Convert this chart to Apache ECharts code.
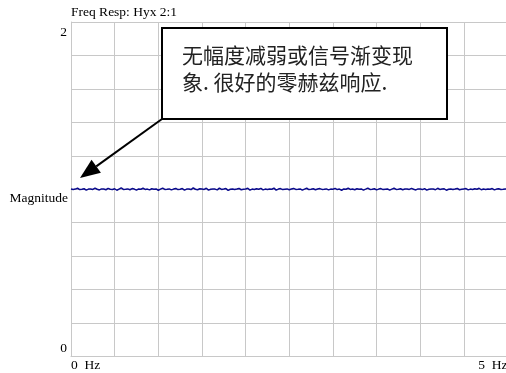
<!DOCTYPE html>
<html>
<head>
<meta charset="utf-8">
<script src="https://cdn.jsdelivr.net/npm/echarts@6/dist/echarts.min.js"></script>
<style>
  html, body { margin: 0; padding: 0; background: #fff; overflow: hidden; }
  #chart { width: 506px; height: 373px; }
</style>
</head>
<body>
<div id="chart"></div>
<script>
// Magnitude of the frequency response Hyx, sampled evenly from 0 to 5 Hz
const freqMin = 0;
const freqMax = 5;
const magnitude = [
  1.002, 0.999, 1.001, 1.006, 0.998, 1.000, 1.003, 0.995, 1.001, 1.002,
  0.999, 1.007, 1.000, 0.996, 1.002, 1.001, 0.997, 1.005, 1.000, 0.999,
  1.003, 0.994, 1.001, 1.008, 0.999, 1.000, 1.002, 0.997, 1.004, 1.001,
  0.995, 1.002, 1.000, 1.006, 0.999, 1.001, 0.996, 1.003, 1.000, 1.002,
  0.994, 1.001, 1.007, 0.999, 1.000, 1.002, 0.996, 1.001, 1.005, 0.998,
  1.000, 1.004, 0.995, 1.001, 1.002, 0.998, 1.008, 1.000, 0.997, 1.003,
  1.001, 0.999, 1.006, 0.995, 1.000, 1.002, 1.001, 0.996, 1.007, 0.999,
  1.001, 1.004, 0.993, 1.000, 1.002, 0.998, 1.001, 1.005, 0.997, 1.000,
  1.002, 1.006, 0.995, 1.001, 0.999, 1.003, 1.000, 1.005, 0.996, 1.001,
  0.999, 1.002, 1.000, 1.007, 0.995, 1.001, 1.004, 0.998, 1.000, 1.002,
  0.997, 1.001, 1.005, 0.999, 1.000, 1.002, 0.995, 1.001, 1.006, 0.998,
  1.000, 1.003, 0.997, 1.001, 1.004, 0.999, 1.000, 1.002, 0.996, 1.001,
  1.000, 1.005, 0.998, 1.001, 0.994, 1.002, 1.000, 1.006, 0.999, 1.001,
  0.997, 1.003, 1.000, 1.002, 0.995, 1.001, 1.007, 0.999, 1.000, 1.003,
  0.996, 1.001, 1.004, 0.998, 1.000, 1.002, 0.995, 1.001, 1.006, 0.999,
  1.000, 1.003, 0.997, 1.001, 1.002, 0.999, 1.005, 1.000, 0.996, 1.002,
  1.001, 0.998, 1.004, 0.995, 1.000, 1.002, 1.001, 0.997, 1.006, 0.999,
  1.001, 1.003, 0.994, 1.000, 1.002, 0.998, 1.001, 1.005, 0.997, 1.000,
  1.002, 1.004, 0.996, 1.001, 0.999, 1.003, 1.000, 1.006, 0.997, 1.001,
  0.999, 1.002, 1.000, 1.004, 0.996, 1.001, 1.003, 0.999, 1.000, 1.002,
  1.001
];

// Axis ranges and the labels shown at their ends
const yMin = 0;
const yMax = 2;
const yTickLabels = { 0: '0', 2: '2' };
const xTickLabels = { 0: '0  Hz', 5: '5  Hz' };

const titleText = 'Freq Resp: Hyx 2:1';
const yAxisTitle = 'Magnitude';
const noteLines = ['无幅度减弱或信号渐变现', '象. 很好的零赫兹响应.'];

const step = (freqMax - freqMin) / (magnitude.length - 1);
const seriesData = magnitude.map((v, i) => [freqMin + i * step, v]);

const serif = '"Liberation Serif", "DejaVu Serif", serif';
const serifSize = 13.5;
const gridGray = '#c8c8c8';

// callout geometry
const box = { x: 162, y: 28, w: 285, h: 91 };
const tip = [80, 178];
const tail = [box.x, box.y + box.h];
const dx = tip[0] - tail[0], dy = tip[1] - tail[1];
const len = Math.sqrt(dx * dx + dy * dy);
const ux = dx / len, uy = dy / len;
const headLen = 20, headHalf = 8;
const base = [tip[0] - ux * headLen, tip[1] - uy * headLen];

const chart = echarts.init(document.getElementById('chart'), null, { renderer: 'canvas' });
chart.setOption({
  animation: false,
  backgroundColor: '#fff',
  grid: {
    left: 71, right: -1.5, top: 22, bottom: 16.5,
    containLabel: false,
    outerBoundsMode: 'none'
  },
  xAxis: {
    type: 'value',
    min: freqMin,
    max: freqMax,
    interval: 0.5,
    axisLine: { show: true, lineStyle: { color: gridGray, width: 1 } },
    axisTick: { show: false },
    splitLine: { show: true, lineStyle: { color: gridGray, width: 1 } },
    axisLabel: {
      margin: 2,
      fontFamily: serif,
      fontSize: serifSize,
      color: '#000',
      alignMinLabel: 'left',
      alignMaxLabel: 'right',
      formatter: v => xTickLabels[v] || ''
    }
  },
  yAxis: {
    type: 'value',
    min: yMin,
    max: yMax,
    interval: 0.2,
    axisLine: { show: true, lineStyle: { color: gridGray, width: 1 } },
    axisTick: { show: false },
    splitLine: { show: true, lineStyle: { color: gridGray, width: 1 } },
    axisLabel: {
      margin: 4,
      fontFamily: serif,
      fontSize: serifSize,
      color: '#000',
      padding: [3, 0, 1, 0],
      verticalAlignMinLabel: 'bottom',
      verticalAlignMaxLabel: 'top',
      formatter: v => yTickLabels[Math.round(v * 10) / 10] || ''
    }
  },
  series: [{
    type: 'line',
    data: seriesData,
    showSymbol: false,
    lineStyle: { color: '#0a0a8c', width: 1.5 },
    z: 3
  }],
  graphic: [
    {
      type: 'text',
      x: 71,
      y: 12,
      style: { text: titleText, font: serifSize + 'px ' + serif, fill: '#000', verticalAlign: 'middle' }
    },
    {
      type: 'text',
      x: 68,
      y: 198,
      style: {
        text: yAxisTitle,
        font: serifSize + 'px ' + serif,
        fill: '#000',
        align: 'right',
        verticalAlign: 'middle'
      }
    },
    {
      type: 'line',
      shape: { x1: tail[0], y1: tail[1], x2: base[0], y2: base[1] },
      style: { stroke: '#000', lineWidth: 2 },
      z: 10
    },
    {
      type: 'polygon',
      shape: {
        points: [
          tip,
          [base[0] - uy * headHalf, base[1] + ux * headHalf],
          [base[0] + uy * headHalf, base[1] - ux * headHalf]
        ]
      },
      style: { fill: '#000' },
      z: 10
    },
    {
      type: 'rect',
      shape: { x: box.x, y: box.y, width: box.w, height: box.h },
      style: { fill: '#fff', stroke: '#000', lineWidth: 2 },
      z: 10
    },
    {
      type: 'text',
      x: 182,
      y: 55,
      style: {
        text: noteLines[0],
        font: '21px "Noto Sans CJK SC", sans-serif',
        fill: '#222',
        verticalAlign: 'middle'
      },
      z: 11
    },
    {
      type: 'text',
      x: 182,
      y: 82,
      style: {
        text: noteLines[1],
        font: '21px "Noto Sans CJK SC", sans-serif',
        fill: '#222',
        verticalAlign: 'middle'
      },
      z: 11
    }
  ]
});
</script>
</body>
</html>
